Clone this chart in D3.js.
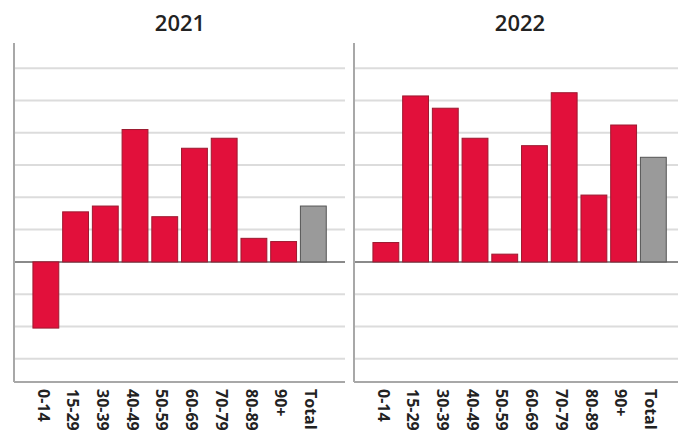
<!DOCTYPE html>
<html>
<head>
<meta charset="utf-8">
<script src="https://cdn.jsdelivr.net/npm/d3@7"></script>
<style>
  body { margin: 0; background: #fff; }
  svg { display: block; font-family: "Open Sans", "Liberation Sans", sans-serif; }
</style>
</head>
<body>
<svg id="chart" width="678" height="437"></svg>
<script>
// categories + values (one grid step = 1 unit)
const groups = ["0-14", "15-29", "30-39", "40-49", "50-59", "60-69", "70-79", "80-89", "90+", "Total"];
const years = ["2021", "2022"];
const values2021 = [-2.05, 1.55, 1.73, 4.1, 1.4, 3.52, 3.83, 0.73, 0.63, 1.73];
const values2022 = [0.6, 5.14, 4.76, 3.83, 0.24, 3.6, 5.24, 2.07, 4.24, 3.24];
const gridTicks = [-3, -2, -1, 0, 1, 2, 3, 4, 5, 6];

const svg = d3.select("#chart");

const y = d3.scaleLinear().domain([-3.72, 6.78]).range([382, 43]);

function panel(x0, title, values) {
    const g = svg.append("g");
    const x = d3.scaleBand().domain(groups).range([x0 + 17, x0 + 314.2]).paddingInner(0.13).paddingOuter(0.065);

    // gridlines
    g.selectAll("line.grid")
        .data(gridTicks)
        .join("line")
        .attr("class", "grid")
        .attr("x1", x0)
        .attr("x2", x0 + 331)
        .attr("y1", d => y(d))
        .attr("y2", d => y(d))
        .style("stroke", d => d === 0 ? "#8a8a8a" : "#dcdcdc")
        .style("stroke-width", 2);

    // axis lines
    g.append("line")
        .attr("x1", x0).attr("x2", x0)
        .attr("y1", y(6.78)).attr("y2", y(-3.72))
        .style("stroke", "#a8a8a8").style("stroke-width", 2);
    g.append("line")
        .attr("x1", x0).attr("x2", x0 + 331)
        .attr("y1", y(-3.72)).attr("y2", y(-3.72))
        .style("stroke", "#a8a8a8").style("stroke-width", 2);

    // bars
    g.selectAll("rect")
        .data(values.map((v, i) => ({ k: groups[i], v: v })))
        .join("rect")
        .attr("x", d => x(d.k))
        .attr("width", x.bandwidth())
        .attr("y", d => y(Math.max(0, d.v)))
        .attr("height", d => Math.abs(y(d.v) - y(0)))
        .style("fill", d => d.k === "Total" ? "#9a9a9a" : "#e2103b")
        .style("stroke", d => d.k === "Total" ? "#555" : "#9c1a30")
        .style("stroke-width", 1);

    // category labels, rotated
    g.selectAll("text.lab")
        .data(groups)
        .join("text")
        .attr("class", "lab")
        .attr("transform", d => `translate(${x(d) + x.bandwidth() / 2 - 4},389) rotate(90)`)
        .attr("dominant-baseline", "middle")
        .style("font-size", "16px")
        .style("font-weight", "bold")
        .style("fill", "#222")
        .text(d => d);

    // title
    g.append("text")
        .attr("x", x0 + 166)
        .attr("y", 31)
        .attr("text-anchor", "middle")
        .style("font-size", "22px")
        .style("font-weight", "600")
        .style("fill", "#222")
        .text(title);
}

panel(14, years[0], values2021);
panel(354, years[1], values2022);
</script>
</body>
</html>
